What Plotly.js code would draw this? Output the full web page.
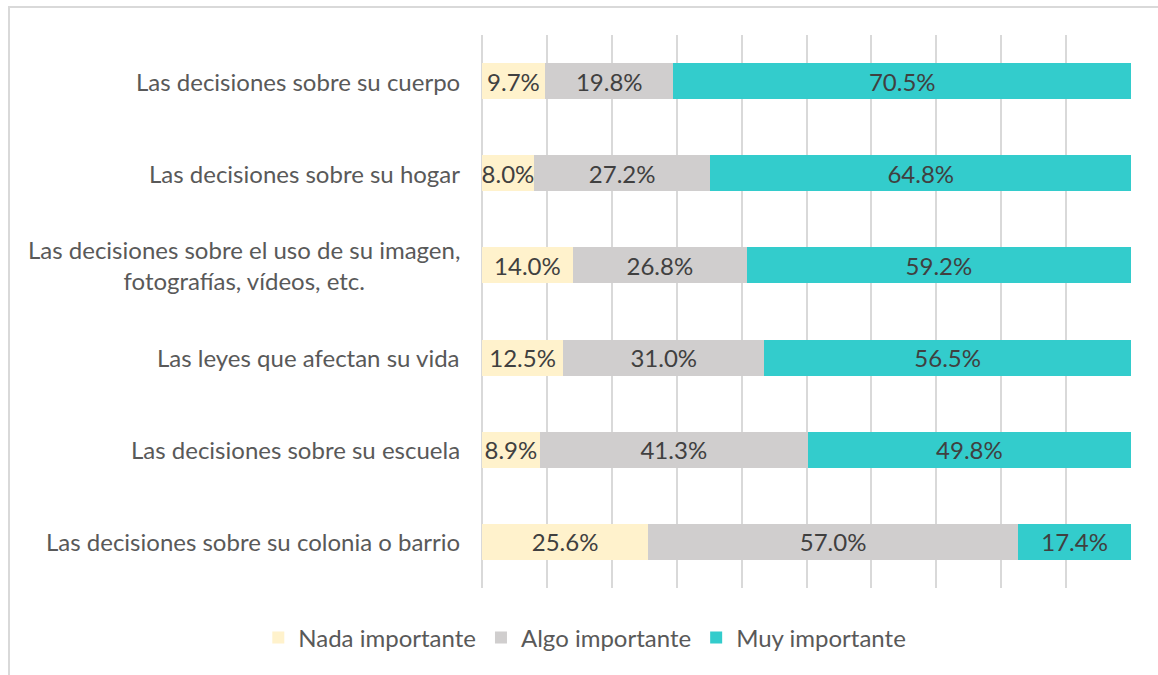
<!DOCTYPE html>
<html>
<head>
<meta charset="utf-8">
<script src="https://cdn.plot.ly/plotly-3.0.1.min.js"></script>
<style>
  html, body { margin: 0; padding: 0; background: #ffffff; }
  #wrap { position: relative; width: 1158px; height: 675px; overflow: hidden; }
  #frame { position: absolute; left: 8px; top: 6px; width: 1160px; height: 690px;
           border: 2px solid #d9d9d9; box-sizing: border-box; }
  #chart { position: absolute; left: 0; top: 0; width: 1158px; height: 675px; }
</style>
</head>
<body>
<div id="wrap">
  <div id="frame"></div>
  <div id="chart"></div>
</div>
<script>
const categories = [
  "Las decisiones sobre su cuerpo",
  "Las decisiones sobre su hogar",
  "Las decisiones sobre el uso de su imagen,<br>fotografías, vídeos, etc.",
  "Las leyes que afectan su vida",
  "Las decisiones sobre su escuela",
  "Las decisiones sobre su colonia o barrio"
];
const seriesNames = ["Nada importante", "Algo importante", "Muy importante"];
const nada = [9.7, 8.0, 14.0, 12.5, 8.9, 25.6];
const algo = [19.8, 27.2, 26.8, 31.0, 41.3, 57.0];
const muy  = [70.5, 64.8, 59.2, 56.5, 49.8, 17.4];
const colors = ["#FFF2CC", "#D0CECE", "#33CCCC"];

const font = "Lato, 'Open Sans', sans-serif";
const seriesValues = [nada, algo, muy];

const traces = seriesValues.map((vals, i) => ({
  type: "bar",
  orientation: "h",
  name: seriesNames[i],
  y: categories,
  x: vals,
  marker: { color: colors[i], line: { width: 0 } },
  text: vals.map(v => v.toFixed(1) + "%"),
  textposition: "inside",
  insidetextanchor: "middle",
  textfont: { family: font, size: 24, color: "#404040" },
  hoverinfo: "skip"
}));

const annotations = categories.map(c => ({
  xref: "paper", yref: "y",
  x: 0, y: c,
  xanchor: "right", yanchor: "middle",
  xshift: -20,
  text: c,
  align: "center",
  showarrow: false,
  font: { family: font, size: 24, color: "#595959" }
}));

const layout = {
  width: 1158, height: 675,
  paper_bgcolor: "rgba(0,0,0,0)",
  plot_bgcolor: "rgba(0,0,0,0)",
  margin: { l: 482, r: 27, t: 35, b: 87, pad: 0 },
  barmode: "stack",
  bargap: 0.61,
  showlegend: true,
  uniformtext: { mode: "show", minsize: 24 },
  font: { family: font, color: "#595959", size: 24 },
  xaxis: {
    range: [0, 100], dtick: 10, tick0: 0,
    showgrid: true, gridcolor: "#d9d9d9", gridwidth: 2,
    zeroline: true, zerolinecolor: "#d9d9d9", zerolinewidth: 2,
    showticklabels: false, showline: false, ticks: "", fixedrange: true
  },
  yaxis: {
    type: "category",
    autorange: "reversed",
    showticklabels: false,
    showgrid: false, zeroline: false, showline: false, ticks: "",
    fixedrange: true
  },
  legend: {
    orientation: "h",
    xref: "container", yref: "container",
    x: 0.505, xanchor: "center",
    y: 0.055, yanchor: "middle",
    font: { family: font, size: 24, color: "#595959" },
    traceorder: "normal",
    itemclick: false, itemdoubleclick: false
  },
  annotations: annotations
};

Plotly.newPlot("chart", traces, layout, { displayModeBar: false, staticPlot: true });
</script>
</body>
</html>
